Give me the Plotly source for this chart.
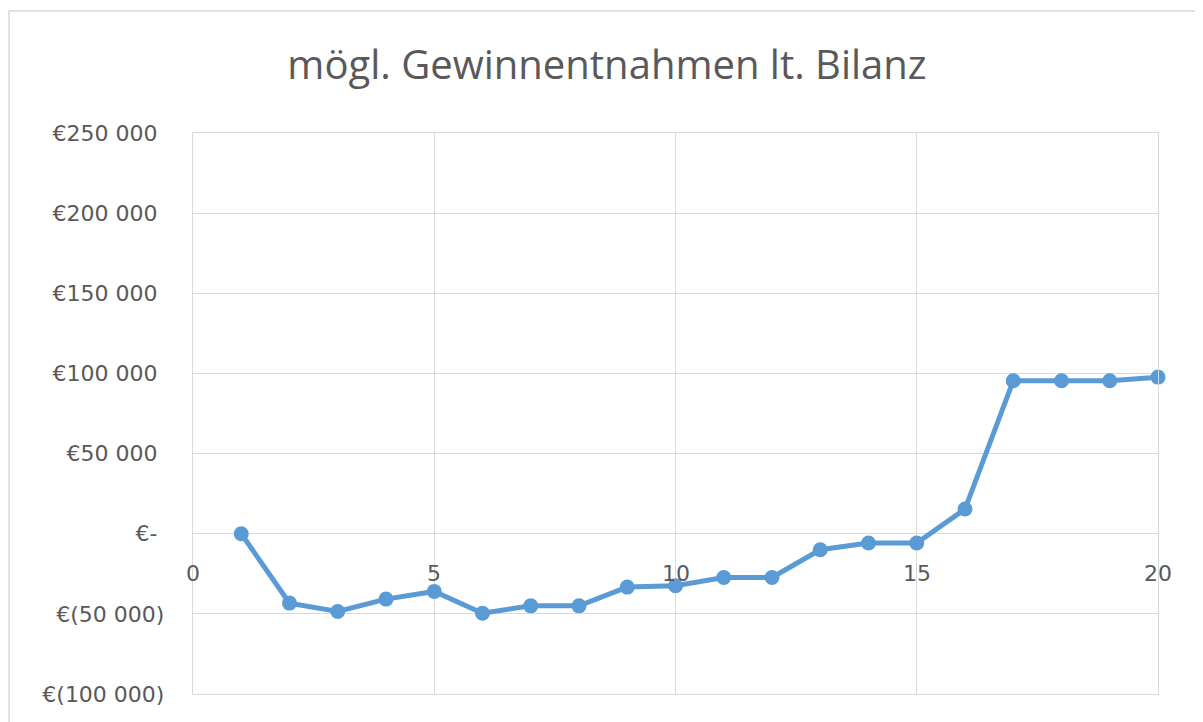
import plotly.graph_objects as go

years = list(range(1, 21))
gewinn = [0, -43300, -48500, -40800, -36000, -49600, -45000, -45000, -33300, -32500,
          -27300, -27300, -10000, -5800, -5800, 15400, 95400, 95400, 95400, 97700]

y_tickvals = [250000, 200000, 150000, 100000, 50000, 0, -50000, -100000]
y_ticktext = ["€250 000 ", "€200 000 ", "€150 000 ", "€100 000 ", "€50 000 ", "€- ",
              "€(50 000)", "€(100 000)"]
x_tickvals = [0, 5, 10, 15, 20]
x_ticktext = ["0", "5", "10", "15", "20"]

OFF = 8  # default body margin of the html page
W, H = 1203 - OFF, 722 - OFF
L, R, T, B = 193 - OFF, 1158 - OFF, 133 - OFF, 694 - OFF
TXT = "#595959"
GRID = "#D9D9D9"
tfont = "'Open Sans', sans-serif"
kfont = "'DejaVu Sans', sans-serif"

fig = go.Figure()
fig.add_trace(go.Scatter(
    x=years, y=gewinn, mode="lines+markers",
    line=dict(color="#5B9BD5", width=5),
    marker=dict(color="#5B9BD5", size=15),
    showlegend=False, cliponaxis=False,
))

for v, t in zip(x_tickvals, x_ticktext):
    fig.add_annotation(x=v, y=0, xref="x", yref="y", text=t, showarrow=False,
                       yshift=-40, font=dict(size=22, color=TXT, family=kfont))

pw = R - L
ph = B - T
fig.add_shape(type="rect", xref="paper", yref="paper",
              x0=(1 - L) / pw, x1=(1215 - OFF - L) / pw,
              y0=(B - 740) / ph, y1=(B - (11 - OFF)) / ph,
              line=dict(color=GRID, width=1.5), layer="below")

fig.update_layout(
    width=W, height=H,
    margin=dict(l=L, r=W - R, t=T, b=H - B),
    paper_bgcolor="white", plot_bgcolor="white",
    title=dict(text="mögl. Gewinnentnahmen lt. Bilanz", x=(607 - OFF) / W, xanchor="center",
               y=1 - (65 - OFF) / H, yanchor="middle",
               font=dict(size=40, color=TXT, family=tfont)),
    font=dict(family=kfont, color=TXT),
    xaxis=dict(range=[0, 20], tickvals=x_tickvals, showticklabels=False,
               showgrid=True, gridcolor=GRID, gridwidth=1.3, zeroline=False,
               showline=True, linecolor=GRID, linewidth=1.3, mirror=True,
               fixedrange=True),
    yaxis=dict(range=[-100000, 250000], tickvals=y_tickvals, ticktext=y_ticktext,
               showgrid=True, gridcolor=GRID, gridwidth=1.3, zeroline=False,
               showline=True, linecolor=GRID, linewidth=1.3, mirror=True,
               ticks="", ticklabelstandoff=23,
               tickfont=dict(size=22, color=TXT, family=kfont)),
)

fig.write_html("out.html")
